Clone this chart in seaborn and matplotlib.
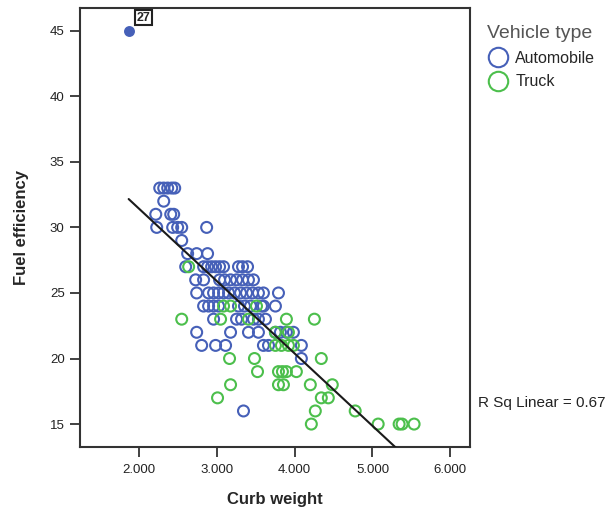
import numpy as np
import pandas as pd
import matplotlib
matplotlib.use("Agg")
import matplotlib.pyplot as plt
import seaborn as sns
from matplotlib.lines import Line2D
from matplotlib.ticker import FuncFormatter, FixedLocator

# ---------------- data (curb weight in thousands, fuel efficiency in mpg) -------------
auto_weight = [2.269, 2.320, 2.371, 2.423, 2.461,
               2.320,
               2.218, 2.410, 2.448,
               2.230, 2.435, 2.499, 2.551, 2.871,
               2.551,
               2.627, 2.743, 2.883,
               2.602, 2.832, 2.883, 2.935, 2.986, 3.037, 3.088, 3.280, 3.332, 3.396,
               2.730, 2.832, 3.037, 3.101, 3.178, 3.255, 3.332, 3.408, 3.472,
               2.743, 2.896, 2.960, 3.024, 3.088, 3.152, 3.229, 3.306, 3.383, 3.460, 3.536, 3.600, 3.793,
               2.832, 2.896, 2.960, 3.024, 3.280, 3.357, 3.434, 3.575, 3.600, 3.754,
               2.960, 3.255, 3.319, 3.472, 3.536, 3.626,
               2.743, 3.178, 3.408, 3.536, 3.754, 3.818, 3.895, 3.985,
               2.807, 2.986, 3.114, 3.600, 3.665, 4.087,
               4.087,
               3.344]
auto_mpg = [33, 33, 33, 33, 33,
            32,
            31, 31, 31,
            30, 30, 30, 30, 30,
            29,
            28, 28, 28,
            27, 27, 27, 27, 27, 27, 27, 27, 27, 27,
            26, 26, 26, 26, 26, 26, 26, 26, 26,
            25, 25, 25, 25, 25, 25, 25, 25, 25, 25, 25, 25, 25,
            24, 24, 24, 24, 24, 24, 24, 24, 24, 24,
            23, 23, 23, 23, 23, 23,
            22, 22, 22, 22, 22, 22, 22, 22,
            21, 21, 21, 21, 21, 21,
            20,
            16]

truck_weight = [2.640,
                3.088, 3.178, 3.511,
                2.551, 3.050, 3.408, 3.895, 4.254,
                3.754, 3.921,
                3.754, 3.831, 3.921, 3.985,
                3.165, 3.485, 4.343,
                3.524, 3.793, 3.844, 3.895, 4.023,
                3.178, 3.793, 3.857, 4.202, 4.484,
                3.011, 4.343, 4.433,
                4.266, 4.778,
                4.215, 5.073, 5.342, 5.380, 5.534]
truck_mpg = [27,
             24, 24, 24,
             23, 23, 23, 23, 23,
             22, 22,
             21, 21, 21, 21,
             20, 20, 20,
             19, 19, 19, 19, 19,
             18, 18, 18, 18, 18,
             17, 17, 17,
             16, 16,
             15, 15, 15, 15, 15]

outlier_weight = [1.870]
outlier_mpg = [45]
outlier_label = ["27"]

vehicle_types = ["Automobile", "Truck"]
fit_intercept = 42.50
fit_slope = -5.528
r_sq = 0.67

x_ticks = [2.0, 3.0, 4.0, 5.0, 6.0]
y_ticks = [15, 20, 25, 30, 35, 40, 45]

# ---------------- build frame ----------------
df = pd.DataFrame({
    "Curb weight": auto_weight + truck_weight,
    "Fuel efficiency": auto_mpg + truck_mpg,
    "Vehicle type": [vehicle_types[0]] * len(auto_weight) + [vehicle_types[1]] * len(truck_weight),
})

sns.set_theme(style="white")
plt.rcParams["font.family"] = ["Liberation Sans", "DejaVu Sans"]

blue = "#4660B8"
green = "#4CBF4C"
palette = {"Automobile": blue, "Truck": green}

fig = plt.figure(figsize=(6.10, 5.15), dpi=100)
ax = fig.add_axes([0.1311, 0.132, 0.6393, 0.8524])

sns.scatterplot(data=df, x="Curb weight", y="Fuel efficiency", hue="Vehicle type",
                palette=palette, s=62, linewidth=1.5, ax=ax, legend=False, zorder=3)
coll = ax.collections[0]
fcs = coll.get_facecolors()
coll.set_edgecolors(fcs)
coll.set_facecolors("none")

# outlier case 27 (filled)
sns.scatterplot(x=outlier_weight, y=outlier_mpg, color=blue, s=62, linewidth=0,
                ax=ax, legend=False, zorder=4)
ax.annotate(outlier_label[0], xy=(outlier_weight[0], outlier_mpg[0]),
            xytext=(6, 5), textcoords="offset points", fontsize=9, fontweight="bold",
            ha="left", va="bottom",
            bbox=dict(boxstyle="square,pad=0.12", fc="white", ec="#222222", lw=1.5))

# fit line over data range
all_w = np.array(auto_weight + truck_weight + outlier_weight)
xs = np.array([all_w.min(), all_w.max()])
ax.plot(xs, fit_intercept + fit_slope * xs, color="#1a1a1a", lw=1.5, zorder=5)

ax.set_xlim(1.245, 6.251)
ax.set_ylim(13.25, 46.73)
ax.xaxis.set_major_locator(FixedLocator(x_ticks))
ax.yaxis.set_major_locator(FixedLocator(y_ticks))
ax.xaxis.set_major_formatter(FuncFormatter(lambda v, p: f"{v:.3f}"))
ax.tick_params(axis="both", which="major", direction="out", length=7, width=1.3,
               color="#333333", labelsize=9.5, labelcolor="#222222", bottom=True, left=True)
ax.tick_params(axis="x", pad=5)
ax.tick_params(axis="y", pad=4)
for sp in ax.spines.values():
    sp.set_color("#333333")
    sp.set_linewidth(1.5)

ax.set_xlabel("Curb weight", fontsize=12, fontweight="bold", labelpad=12)
ax.set_ylabel("Fuel efficiency", fontsize=12, fontweight="bold", labelpad=15)

handles = [Line2D([0], [0], marker="o", linestyle="none", markersize=14,
                  markerfacecolor="none", markeredgecolor=palette[t], markeredgewidth=1.5)
           for t in vehicle_types]
leg = ax.legend(handles, vehicle_types, title="Vehicle type", loc="upper left",
                bbox_to_anchor=(1.045, 0.962), frameon=False, fontsize=11.5,
                title_fontsize=14, handletextpad=0.45, borderaxespad=0,
                labelspacing=0.55, handlelength=1.3, borderpad=0.0)
leg._legend_box.align = "left"
leg.get_title().set_color("#555555")

fig.text(0.783, 0.218, f"R Sq Linear = {r_sq:.2f}", fontsize=11, color="#222222",
         ha="left", va="center")

fig.savefig("out.png", dpi=100)
